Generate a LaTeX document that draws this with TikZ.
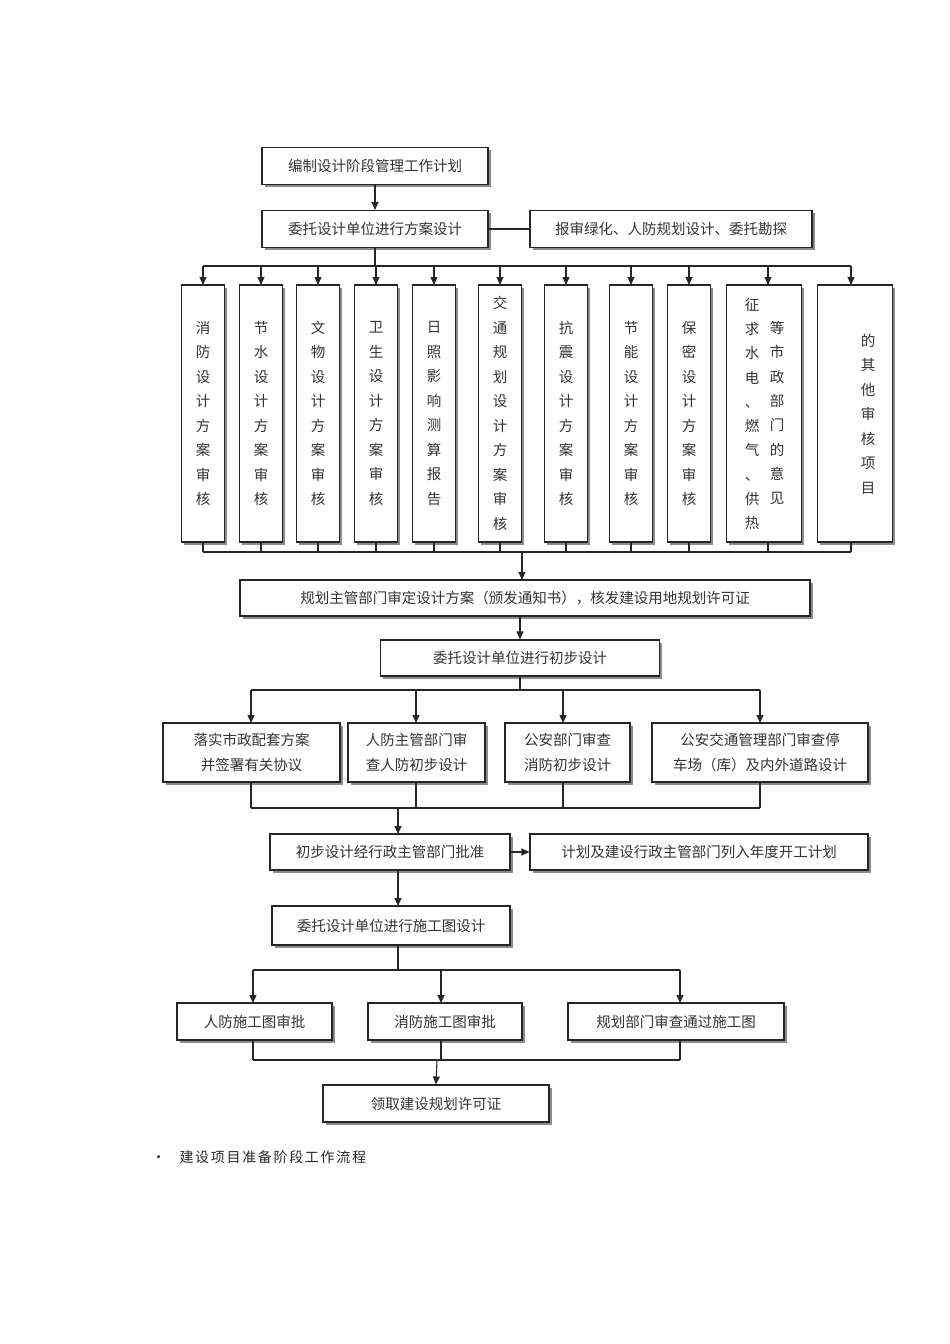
\documentclass[tikz,border=0pt]{standalone}
\usepackage{fontspec}
\setmainfont{Noto Sans CJK SC}
\usetikzlibrary{arrows.meta,shadows}
\begin{document}
\begin{tikzpicture}[x=1pt,y=-1pt,
  bx/.style={draw=black!85,line width=1.1pt,fill=white,text=black!80,
    drop shadow={shadow xshift=2.5pt,shadow yshift=-2.5pt,fill=black!45,opacity=1},
    font=\fontsize{14.5}{24.5}\selectfont,inner sep=0pt,align=center},
  ln/.style={line width=1.1pt,draw=black!85},
  ar/.style={ln,-{Triangle[length=8pt,width=7pt]}}]
\useasboundingbox (0,0) rectangle (950,1344);
% helper for boxes by pixel rectangle
\newcommand\pbox[6][]{\node[bx,minimum width=#4,minimum height=#5,#1] (#2) at #3 {#6};}
\pbox{b1}{(375,166)}{226}{37}{编制设计阶段管理工作计划}
\pbox{b2}{(375,229)}{226}{37}{委托设计单位进行方案设计}
\pbox{bs}{(671,229)}{282}{37}{报审绿化、人防规划设计、委托勘探}
\draw[ar] (b1) -- (b2);
\draw[ln] (b2) -- (bs);
% tall boxes
\foreach \n/\x/\w/\t in {
 t1/203/43/{消\\防\\设\\计\\方\\案\\审\\核},
 t2/261/43/{节\\水\\设\\计\\方\\案\\审\\核},
 t3/318/43/{文\\物\\设\\计\\方\\案\\审\\核},
 t4/376/43/{卫\\生\\设\\计\\方\\案\\审\\核},
 t5/434/43/{日\\照\\影\\响\\测\\算\\报\\告},
 t6/500/43/{交\\通\\规\\划\\设\\计\\方\\案\\审\\核},
 t7/566/43/{抗\\震\\设\\计\\方\\案\\审\\核},
 t8/631/43/{节\\能\\设\\计\\方\\案\\审\\核},
 t9/689/43/{保\\密\\设\\计\\方\\案\\审\\核},
 t10/764/75/{},
 t11/855/75/{}}
 {\node[bx,minimum width=\w,minimum height=257] (\n) at (\x,413.5) {\t};}
\node[text=black!80,font=\fontsize{14.5}{24.3}\selectfont,align=center] at (752,414) {征\\求\\水\\电\\、\\燃\\气\\、\\供\\热};
\node[text=black!80,font=\fontsize{14.5}{24.3}\selectfont,align=center] at (777,413) {等\\市\\政\\部\\门\\的\\意\\见};
\node[text=black!80,font=\fontsize{14.5}{24.5}\selectfont,align=center] at (868,414) {的\\其\\他\\审\\核\\项\\目};
\coordinate (br1) at (375,266);
\draw[ln] (b2) -- (br1);
\draw[ln] (203,266) -- (851,266);
\foreach \n/\x in {t1/203,t2/261,t3/318,t4/376,t5/434,t6/500,t7/566,t8/631,t9/689,t10/768,t11/851}
 {\draw[ar] (\x,266) -- (\x,285); \draw[ln] (\x,542) -- (\x,552);}
\draw[ln] (203,552) -- (851,552);
\pbox{b3}{(525,598)}{570}{36}{规划主管部门审定设计方案（颁发通知书），核发建设用地规划许可证}
\coordinate (c1) at (522,552);
\draw[ar] (c1) -- (522,580);
\pbox{b4}{(520,658)}{279}{36}{委托设计单位进行初步设计}
\draw[ar] (520,616) -- (b4.north);
\draw[ln] (b4.south) -- (520,690);
\draw[ln] (251,690) -- (760,690);
\pbox{c1b}{(251.5,752.5)}{177}{59}{落实市政配套方案\\并签署有关协议}
\pbox{c2b}{(416.5,752.5)}{137}{59}{人防主管部门审\\查人防初步设计}
\pbox{c3b}{(567.5,752.5)}{125}{59}{公安部门审查\\消防初步设计}
\pbox{c4b}{(760,752.5)}{216}{59}{公安交通管理部门审查停\\车场（库）及内外道路设计}
\foreach \x in {251,416,563,760}{\draw[ar] (\x,690) -- (\x,723); \draw[ln] (\x,782) -- (\x,808);}
\draw[ln] (251,808) -- (760,808);
\pbox{d1}{(390,852)}{240}{36}{初步设计经行政主管部门批准}
\pbox{d2}{(699,852)}{338}{36}{计划及建设行政主管部门列入年度开工计划}
\draw[ar] (398,808) -- (398,834);
\draw[ar] (d1) -- (d2);
\pbox{e1}{(391,925.5)}{238}{39}{委托设计单位进行施工图设计}
\draw[ar] (398,870) -- (398,906);
\draw[ln] (398,945) -- (398,970);
\draw[ln] (253,970) -- (680,970);
\pbox{f1}{(254.5,1021.5)}{155}{37}{人防施工图审批}
\pbox{f2}{(445,1021.5)}{154}{37}{消防施工图审批}
\pbox{f3}{(676,1021.5)}{216}{37}{规划部门审查通过施工图}
\foreach \x in {253,441,680}{\draw[ar] (\x,970) -- (\x,1003); \draw[ln] (\x,1040) -- (\x,1060);}
\draw[ln] (253,1060) -- (680,1060);
\pbox{g1}{(436,1103.5)}{226}{37}{领取建设规划许可证}
\draw[ar] (437,1060) -- (g1.north);
\node[anchor=west,text=black!85,font=\fontsize{14}{16}\selectfont] (cap) at (148,1157) {•\hspace{14pt}\addfontfeature{LetterSpace=12}建设项目准备阶段工作流程};
\end{tikzpicture}
\end{document}
